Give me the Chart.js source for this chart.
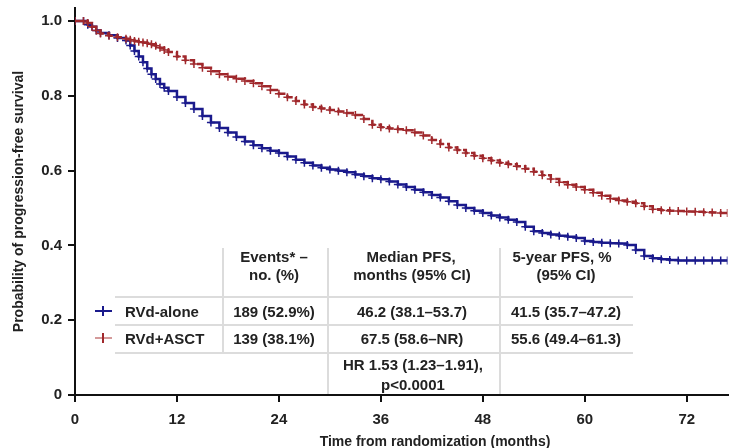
<!DOCTYPE html>
<html>
<head>
<meta charset="utf-8">
<script src="https://cdn.jsdelivr.net/npm/chart.js@4/dist/chart.umd.min.js"></script>
<style>
  body { margin: 0; background: #fff; }
  #wrap { position: relative; width: 733px; height: 448px; overflow: hidden; font-family: "Liberation Sans", Arial, sans-serif; font-weight: bold; color: #222; }
  .t { position: absolute; white-space: nowrap; font-size: 15px; line-height: 1; transform: translate(-50%, -50%); }
  .l { position: absolute; white-space: nowrap; font-size: 15px; line-height: 1; transform: translateY(-50%); }
  .hl { position: absolute; height: 1.5px; background: #dcdcdc; }
  .vl { position: absolute; width: 1.5px; background: #dcdcdc; }
  .mk { position: absolute; height: 2px; width: 17px; }
  .mk i { position: absolute; left: 7px; top: -4px; width: 2px; height: 10px; }
</style>
</head>
<body>
<div id="wrap">
  <canvas id="Chart" width="733" height="448"></canvas>

  <div class="vl" style="left:222px;top:248px;height:104px"></div>
  <div class="vl" style="left:327px;top:248px;height:146px"></div>
  <div class="vl" style="left:499px;top:248px;height:146px"></div>
  <div class="hl" style="left:115px;top:296px;width:518px"></div>
  <div class="hl" style="left:115px;top:324px;width:518px"></div>
  <div class="hl" style="left:115px;top:352px;width:518px"></div>

  <div class="t" style="left:274px;top:256px">Events* –</div>
  <div class="t" style="left:274px;top:274px">no. (%)</div>
  <div class="t" style="left:411px;top:256px">Median PFS,</div>
  <div class="t" style="left:412px;top:274px">months (95% CI)</div>
  <div class="t" style="left:562px;top:256px">5-year PFS, %</div>
  <div class="t" style="left:566px;top:274px">(95% CI)</div>

  <div class="mk" style="left:95px;top:310px;background:#1a1a8c"><i style="background:#1a1a8c"></i></div>
  <div class="mk" style="left:95px;top:337px;background:#d49a9a"><i style="background:#a0282c"></i></div>
  <div class="l" style="left:125px;top:311px">RVd-alone</div>
  <div class="l" style="left:125px;top:338px">RVd+ASCT</div>

  <div class="t" style="left:274px;top:311px">189 (52.9%)</div>
  <div class="t" style="left:412px;top:311px">46.2 (38.1–53.7)</div>
  <div class="t" style="left:566px;top:311px">41.5 (35.7–47.2)</div>
  <div class="t" style="left:274px;top:338px">139 (38.1%)</div>
  <div class="t" style="left:412px;top:338px">67.5 (58.6–NR)</div>
  <div class="t" style="left:566px;top:338px">55.6 (49.4–61.3)</div>
  <div class="t" style="left:413px;top:364px">HR 1.53 (1.23–1.91),</div>
  <div class="t" style="left:413px;top:384px">p&lt;0.0001</div>

  <div class="t" style="left:435px;top:441px;font-size:14px">Time from randomization (months)</div>
</div>
<script>
const months = [0, 1, 1.5, 2, 2.5, 3, 4, 5, 6, 6.5, 7, 7.5, 8, 8.5, 9, 9.5, 10, 10.5, 11,
  12, 13, 14, 15, 16, 17, 18, 19, 20, 21, 22, 23, 24, 25, 26, 27, 28, 29, 30, 31, 32, 33, 34, 35,
  36, 37, 38, 39, 40, 41, 42, 43, 44, 45, 46, 47, 48, 49, 50, 51, 52, 53, 54, 55, 56, 57, 58, 59,
  60, 61, 62, 63, 64, 65, 66, 67, 68, 69, 70, 71, 72, 73, 74, 75, 76, 76.8];

const rvdAlone = [1.0, 1.0, 0.99, 0.985, 0.975, 0.968, 0.962, 0.955, 0.948, 0.935, 0.92, 0.905, 0.89, 0.873, 0.858, 0.845, 0.832, 0.822, 0.813,
  0.797, 0.781, 0.765, 0.746, 0.729, 0.714, 0.702, 0.69, 0.678, 0.668, 0.66, 0.653, 0.647, 0.638, 0.629, 0.621, 0.614, 0.608, 0.603, 0.6, 0.596, 0.59, 0.585, 0.58,
  0.577, 0.571, 0.563, 0.556, 0.549, 0.542, 0.535, 0.528, 0.518, 0.508, 0.5, 0.493, 0.487, 0.48, 0.475, 0.469, 0.463, 0.45, 0.438, 0.433, 0.429, 0.426, 0.423, 0.42,
  0.412, 0.409, 0.407, 0.406, 0.405, 0.401, 0.388, 0.372, 0.366, 0.363, 0.361, 0.36, 0.36, 0.36, 0.36, 0.36, 0.36, 0.36];

const rvdAsct = [1.0, 1.0, 0.995, 0.985, 0.975, 0.967, 0.961, 0.957, 0.953, 0.95, 0.947, 0.945, 0.943, 0.941, 0.938, 0.934, 0.929, 0.923, 0.917,
  0.905, 0.895, 0.885, 0.875, 0.866, 0.858, 0.851, 0.846, 0.84, 0.834, 0.826, 0.816, 0.806, 0.796, 0.786, 0.777, 0.77, 0.766, 0.762, 0.758, 0.754, 0.749, 0.738, 0.723,
  0.716, 0.713, 0.711, 0.708, 0.702, 0.694, 0.682, 0.671, 0.662, 0.655, 0.647, 0.64, 0.633, 0.627, 0.621, 0.617, 0.612, 0.605, 0.597, 0.588, 0.578, 0.569, 0.562, 0.556,
  0.549, 0.541, 0.533, 0.525, 0.52, 0.517, 0.513, 0.505, 0.497, 0.494, 0.493, 0.492, 0.491, 0.49, 0.489, 0.488, 0.487, 0.487];

const xTicks = [0, 12, 24, 36, 48, 60, 72];
const yTicks = [0, 0.2, 0.4, 0.6, 0.8, 1.0];

const blue = "#1a1a8c";
const red = "#a0282c";

function toPoints(vals) {
  return months.map((m, i) => ({ x: m, y: vals[i] }));
}

const tickFont = { family: "'Liberation Sans', Arial, sans-serif", size: 15, weight: "bold" };
const axisStyle = {
  border: { color: "#111", width: 2 },
  grid: { display: true, drawOnChartArea: false, drawTicks: true, tickLength: 7, color: "#111", lineWidth: 2 }
};

const cht = document.getElementById("Chart");
const chart = new Chart(cht.getContext("2d"), {
  type: "line",
  data: {
    datasets: [
      {
        label: "RVd+ASCT",
        data: toPoints(rvdAsct),
        borderColor: red,
        backgroundColor: red,
        borderWidth: 2.5,
        borderDash: [8, 3],
        stepped: true,
        pointStyle: "cross",
        pointRadius: 4,
        pointBorderWidth: 1.5,
        pointBorderColor: red
      },
      {
        label: "RVd-alone",
        data: toPoints(rvdAlone),
        borderColor: blue,
        backgroundColor: blue,
        borderWidth: 2.5,
        stepped: true,
        pointStyle: "cross",
        pointRadius: 4,
        pointBorderWidth: 1.5,
        pointBorderColor: blue
      }
    ]
  },
  options: {
    responsive: false,
    animation: false,
    layout: { padding: { left: 0, top: 8, right: 0, bottom: 0 } },
    plugins: { legend: { display: false }, tooltip: { enabled: false } },
    scales: {
      x: {
        type: "linear",
        min: 0,
        max: 76.8,
        ...axisStyle,
        afterFit: scale => { scale.height = 53; scale.paddingRight = 0; scale.paddingLeft = 0; },
        afterBuildTicks: scale => { scale.ticks = xTicks.map(v => ({ value: v })); },
        ticks: { color: "#222", font: tickFont, padding: 9, maxRotation: 0, autoSkip: false }
      },
      y: {
        min: 0,
        max: 1.035,
        ...axisStyle,
        afterFit: scale => { scale.width = 75; scale.paddingTop = 0; scale.paddingBottom = 0; },
        afterBuildTicks: scale => { scale.ticks = yTicks.map(v => ({ value: v })); },
        ticks: {
          color: "#222", font: tickFont, padding: 6,
          callback: v => (v === 0 ? "0" : v.toFixed(1))
        },
        title: {
          display: true,
          text: "Probability of progression-free survival",
          color: "#222",
          font: { family: "'Liberation Sans', Arial, sans-serif", size: 14, weight: "bold" },
          padding: { top: 11, bottom: 0 }
        }
      }
    }
  }
});
</script>
</body>
</html>
